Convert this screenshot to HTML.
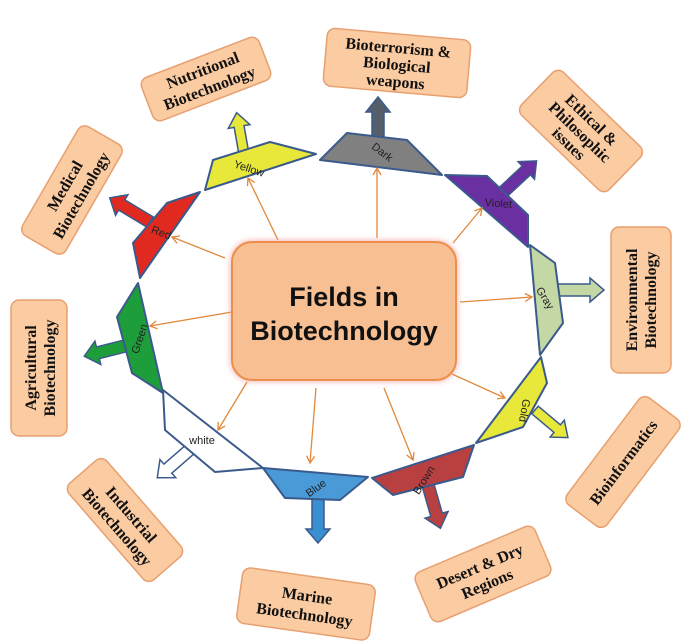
<!DOCTYPE html>
<html><head><meta charset="utf-8"><style>
html,body{margin:0;padding:0;background:#fff;}
svg{display:block;}
.lb{fill:#fbcba2;stroke:#e8a070;stroke-width:1.5;}
.lt{font-family:"Liberation Serif",serif;font-weight:bold;font-size:16px;fill:#111;text-anchor:middle;}
.sh{stroke:#3b5a8c;stroke-width:2;stroke-linejoin:round;}
.st{font-family:"Liberation Sans",sans-serif;font-size:11px;fill:#222;text-anchor:middle;}
.cn{stroke:#e0883a;stroke-width:1.3;fill:none;}
.ar{stroke:#3b5a8c;stroke-width:1.5;}
</style></head><body>
<svg width="693" height="644" viewBox="0 0 693 644" xmlns="http://www.w3.org/2000/svg">
<defs>
<marker id="m" markerWidth="10" markerHeight="10" refX="8" refY="5" orient="auto" markerUnits="userSpaceOnUse">
<path d="M1,1 L8,5 L1,9" fill="none" stroke="#e0883a" stroke-width="1.3"/>
</marker>
<filter id="g" x="-20%" y="-20%" width="140%" height="140%"><feGaussianBlur stdDeviation="3"/></filter>
</defs>

<g transform="translate(206,79) rotate(-21)"><rect class="lb" x="-63" y="-23" width="126" height="46" rx="8"/><text class="lt" y="-4">Nutritional</text><text class="lt" y="15">Biotechnology</text></g>
<g transform="translate(397,63) rotate(5)"><rect class="lb" x="-72" y="-29" width="144" height="58" rx="8"/><text class="lt" y="-10">Bioterrorism &amp;</text><text class="lt" y="7">Biological</text><text class="lt" y="24">weapons</text></g>
<g transform="translate(581,131) rotate(44)"><rect class="lb" x="-61" y="-30" width="122" height="60" rx="8"/><text class="lt" y="-10">Ethical  &amp;</text><text class="lt" y="7">Philosophic</text><text class="lt" y="23">issues</text></g>
<g transform="translate(641,300) rotate(-90)"><rect class="lb" x="-73" y="-30" width="146" height="60" rx="8"/><text class="lt" y="-4">Environmental</text><text class="lt" y="15">Biotechnology</text></g>
<g transform="translate(623,462) rotate(-53)"><rect class="lb" x="-67" y="-25" width="134" height="50" rx="8"/><text class="lt" y="6">Bioinformatics</text></g>
<g transform="translate(483,574) rotate(-23)"><rect class="lb" x="-65" y="-27" width="130" height="54" rx="8"/><text class="lt" y="-3">Desert &amp; Dry</text><text class="lt" y="16">Regions</text></g>
<g transform="translate(306,604) rotate(8)"><rect class="lb" x="-67" y="-28" width="134" height="56" rx="8"/><text class="lt" y="-3">Marine</text><text class="lt" y="16">Biotechnology</text></g>
<g transform="translate(125,520) rotate(49)"><rect class="lb" x="-64" y="-25" width="128" height="50" rx="8"/><text class="lt" y="-3">Industrial</text><text class="lt" y="16">Biotechnology</text></g>
<g transform="translate(39,368) rotate(-90)"><rect class="lb" x="-68" y="-28" width="136" height="56" rx="8"/><text class="lt" y="-3">Agricultural</text><text class="lt" y="16">Biotechnology</text></g>
<g transform="translate(72,190) rotate(-60)"><rect class="lb" x="-63" y="-25" width="126" height="50" rx="8"/><text class="lt" y="-3">Medical</text><text class="lt" y="16">Biotechnology</text></g>

<g transform="translate(245,160) rotate(-100)"><polygon class="ar" fill="#e8e83a" points="0,-5 34,-5 34,-11 48,0 34,11 34,5 0,5"/></g>
<g transform="translate(378,140) rotate(-90)"><polygon class="ar" fill="#555f6b" points="0,-6 28,-6 28,-12 43,0 28,12 28,6 0,6"/></g>
<g transform="translate(500,195) rotate(-43)"><polygon class="ar" fill="#6a2fa0" points="0,-6 36,-6 36,-12 50,0 36,12 36,6 0,6"/></g>
<g transform="translate(150,222) rotate(-149)"><polygon class="ar" fill="#e02a20" points="0,-6 33,-6 33,-12 47,0 33,12 33,6 0,6"/></g>
<g transform="translate(555,290) rotate(0)"><polygon class="ar" fill="#c3d8a5" points="0,-6 35,-6 35,-12 49,0 35,12 35,6 0,6"/></g>
<g transform="translate(125,346) rotate(166)"><polygon class="ar" fill="#1e9e3a" points="0,-6 28,-6 28,-12 42,0 28,12 28,6 0,6"/></g>
<g transform="translate(535,410) rotate(40)"><polygon class="ar" fill="#e8e83a" points="0,-5 29,-5 29,-11 43,0 29,11 29,5 0,5"/></g>
<g transform="translate(428,485) rotate(74)"><polygon class="ar" fill="#b94040" points="0,-6 31,-6 31,-12 45,0 31,12 31,6 0,6"/></g>
<g transform="translate(318,498) rotate(90)"><polygon class="ar" fill="#3a8fd0" points="0,-6 31,-6 31,-12 45,0 31,12 31,6 0,6"/></g>
<g transform="translate(195,445) rotate(139)"><polygon class="ar" fill="#fff" points="0,-6 36,-6 36,-12 50,0 36,12 36,6 0,6"/></g>

<polygon class="sh" fill="#e8e83a" points="205,190 213,160 270,142 316,154"/>
<polygon class="sh" fill="#808080" points="320,160 347,133 407,140 442,175"/>
<polygon class="sh" fill="#6a2fa0" points="445,175 487,176 528,215 528,247"/>
<polygon class="sh" fill="#c3d8a5" points="530,245 555,263 563,323 540,355"/>
<polygon class="sh" fill="#e8e83a" points="541,357 547,383 523,427 476,443"/>
<polygon class="sh" fill="#b94040" points="474,445 463,477 393,495 372,478"/>
<polygon class="sh" fill="#4a9ad8" points="263,468 368,477 340,500 285,498"/>
<polygon class="sh" fill="#ffffff" points="163,390 263,468 215,472 165,430"/>
<polygon class="sh" fill="#1e9e3a" points="138,283 163,393 132,373 117,317"/>
<polygon class="sh" fill="#e02a20" points="140,278 133,243 167,203 200,192"/>

<text class="st" transform="translate(248,172) rotate(18)">Yellow</text>
<text class="st" transform="translate(380,155) rotate(38)">Dark</text>
<text class="st" transform="translate(498,207) rotate(5)">Violet</text>
<text class="st" transform="translate(542,300) rotate(58)">Gray</text>
<text class="st" transform="translate(521,410) rotate(100)">Gold</text>
<text class="st" transform="translate(427,482) rotate(-58)">Brown</text>
<text class="st" transform="translate(318,491) rotate(-35)">Blue</text>
<text class="st" transform="translate(202,444) rotate(0)">white</text>
<text class="st" transform="translate(143,340) rotate(-72)">Green</text>
<text class="st" transform="translate(160,236) rotate(20)">Red</text>

<g class="cn">
<line x1="278" y1="240" x2="248" y2="178" marker-end="url(#m)"/>
<line x1="377" y1="238" x2="377" y2="168" marker-end="url(#m)"/>
<line x1="453" y1="243" x2="482" y2="208" marker-end="url(#m)"/>
<line x1="225" y1="258" x2="172" y2="237" marker-end="url(#m)"/>
<line x1="460" y1="302" x2="532" y2="297" marker-end="url(#m)"/>
<line x1="232" y1="312" x2="150" y2="326" marker-end="url(#m)"/>
<line x1="452" y1="374" x2="505" y2="398" marker-end="url(#m)"/>
<line x1="247" y1="382" x2="218" y2="430" marker-end="url(#m)"/>
<line x1="316" y1="388" x2="310" y2="463" marker-end="url(#m)"/>
<line x1="384" y1="388" x2="413" y2="460" marker-end="url(#m)"/>
</g>

<rect x="230" y="240" width="228" height="142" rx="22" fill="#f4a0a0" opacity="0.7" filter="url(#g)"/>
<rect x="232" y="242" width="224" height="138" rx="20" fill="#f8bf92" stroke="#ec8f4a" stroke-width="2"/>
<text x="344" y="306" text-anchor="middle" font-family="Liberation Sans, sans-serif" font-weight="bold" font-size="27" fill="#111">Fields in</text>
<text x="344" y="340" text-anchor="middle" font-family="Liberation Sans, sans-serif" font-weight="bold" font-size="27" fill="#111">Biotechnology</text>
</svg>
</body></html>
